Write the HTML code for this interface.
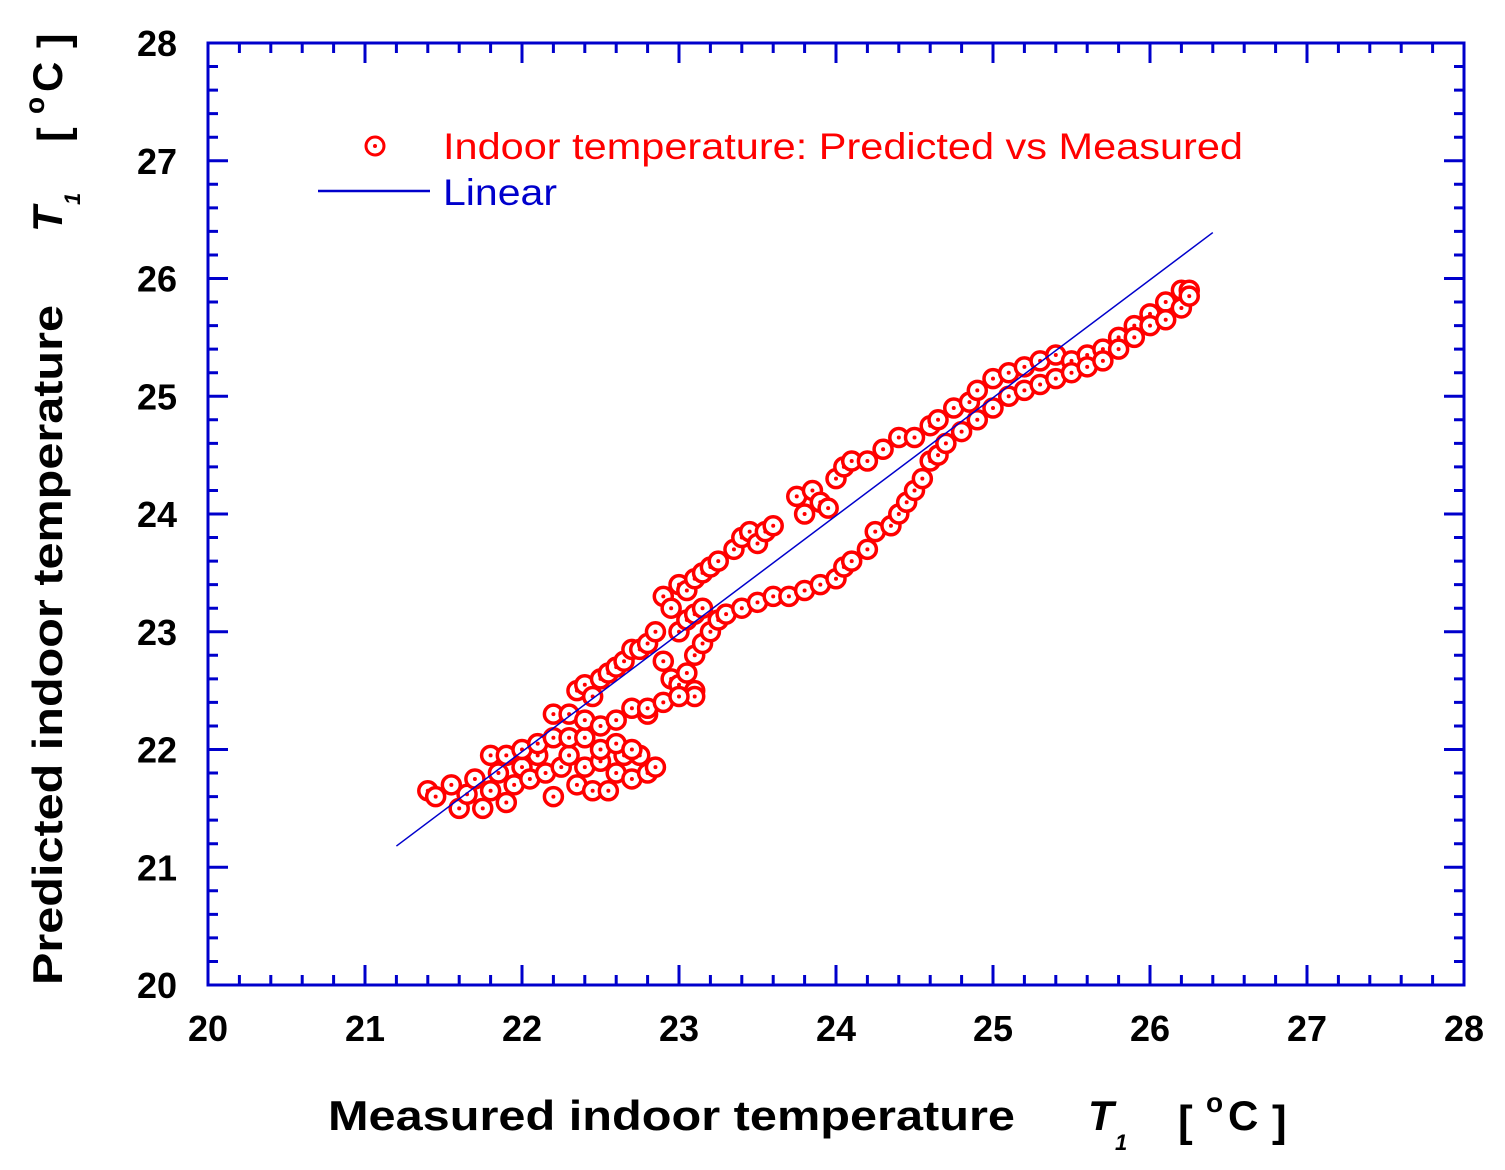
<!DOCTYPE html>
<html><head><meta charset="utf-8"><style>
html,body{margin:0;padding:0;background:#fff;}
svg{display:block;font-family:"Liberation Sans",Arial,sans-serif;}
</style></head><body>
<svg id="chart" width="1505" height="1170" viewBox="0 0 1505 1170" xmlns="http://www.w3.org/2000/svg">
<g id="ticks"></g>
<rect x="208" y="43" width="1256" height="942" fill="none" stroke="#0000cc" stroke-width="3"/>
<g id="xlabels"></g>
<g id="ylabels"></g>
<g id="points"></g>
<line id="fit" stroke="#0000cc" stroke-width="1.5"/>
<g>
  <circle cx="375" cy="146" r="9" fill="#fff" stroke="#ff0000" stroke-width="3"/>
  <circle cx="375" cy="146" r="2" fill="#ff0000"/>
  <text x="443" y="159" font-size="37" fill="#ff0000" textLength="800" lengthAdjust="spacingAndGlyphs">Indoor temperature:  Predicted  vs  Measured</text>
  <line x1="318" y1="191" x2="430" y2="191" stroke="#0000cc" stroke-width="2.5"/>
  <text x="443" y="205" font-size="37" fill="#0000cc" textLength="114" lengthAdjust="spacingAndGlyphs">Linear</text>
</g>
<g font-weight="bold" fill="#000">
  <text x="328" y="1130" font-size="42" textLength="687" lengthAdjust="spacingAndGlyphs">Measured indoor temperature</text>
  <text x="1088" y="1130" font-size="42" font-style="italic">T</text>
  <text x="1115" y="1150" font-size="22" font-style="italic">1</text>
  <text x="1178" y="1136" font-size="44">[</text>
  <text x="1206" y="1112" font-size="28">o</text>
  <text x="1228" y="1130" font-size="42">C</text>
  <text x="1272" y="1136" font-size="44">]</text>
</g>
<g transform="translate(62,985) rotate(-90)" font-weight="bold" fill="#000">
  <text x="0" y="0" font-size="42" textLength="680" lengthAdjust="spacingAndGlyphs">Predicted indoor temperature</text>
  <text x="753" y="0" font-size="42" font-style="italic">T</text>
  <text x="780" y="18" font-size="22" font-style="italic">1</text>
  <text x="843" y="6" font-size="44">[</text>
  <text x="871" y="-18" font-size="28">o</text>
  <text x="893" y="0" font-size="42">C</text>
  <text x="937" y="6" font-size="44">]</text>
</g>
</svg>
<script>
const xTickLabels = ["20","21","22","23","24","25","26","27","28"];
const yTickLabels = ["20","21","22","23","24","25","26","27","28"];
const measured = [21.4,21.45,21.55,21.6,21.65,21.7,21.75,21.8,21.85,21.9,21.95,22.0,22.05,22.1,22.15,22.2,22.25,22.3,22.35,22.4,22.45,22.5,22.55,22.6,22.65,22.7,22.75,22.8,22.85,21.8,21.9,22.0,22.1,22.2,22.3,22.4,22.5,22.6,22.7,22.2,22.3,22.4,22.5,22.6,22.7,22.8,
22.35,22.4,22.45,22.5,22.55,22.6,22.65,22.7,22.75,22.8,22.85,22.9,22.95,23.0,23.05,23.1,23.15,23.2,23.25,23.35,23.4,23.45,23.5,23.55,23.6,23.75,23.8,23.85,23.9,23.95,24.0,24.05,24.1,24.2,24.3,24.4,24.5,24.6,24.65,24.75,24.85,24.9,25.0,25.1,25.2,25.3,25.4,25.5,25.6,25.7,25.8,25.9,26.0,26.1,26.2,26.25,
22.9,22.95,23.0,23.05,23.1,23.15,23.2,23.0,23.05,23.1,23.15,23.1,23.1,
22.8,22.9,23.0,23.25,23.3,23.4,23.5,23.6,23.7,23.8,23.9,24.0,24.05,24.1,24.2,24.25,24.35,24.4,24.45,24.5,24.55,24.6,24.65,24.7,24.8,24.9,25.0,25.1,25.2,25.3,25.4,25.5,25.6,25.7,25.8,25.9,26.0,26.1,26.2,26.25];
const predicted = [21.65,21.6,21.7,21.5,21.62,21.75,21.5,21.65,21.8,21.55,21.7,21.85,21.75,21.95,21.8,21.6,21.85,21.95,21.7,21.85,21.65,21.9,21.65,21.8,21.95,21.75,21.95,21.8,21.85,21.95,21.95,22.0,22.05,22.1,22.1,22.1,22.0,22.05,22.0,22.3,22.3,22.25,22.2,22.25,22.35,22.3,
22.5,22.55,22.45,22.6,22.65,22.7,22.75,22.85,22.85,22.9,23.0,23.3,23.2,23.4,23.35,23.45,23.5,23.55,23.6,23.7,23.8,23.85,23.75,23.85,23.9,24.15,24.0,24.2,24.1,24.05,24.3,24.4,24.45,24.45,24.55,24.65,24.65,24.75,24.8,24.9,24.95,25.05,25.15,25.2,25.25,25.3,25.35,25.3,25.35,25.4,25.5,25.6,25.7,25.8,25.9,25.9,
22.75,22.6,22.55,22.65,22.8,22.9,23.0,23.0,23.1,23.15,23.2,22.5,22.45,
22.35,22.4,22.45,23.1,23.15,23.2,23.25,23.3,23.3,23.35,23.4,23.45,23.55,23.6,23.7,23.85,23.9,24.0,24.1,24.2,24.3,24.45,24.5,24.6,24.7,24.8,24.9,25.0,25.05,25.1,25.15,25.2,25.25,25.3,25.4,25.5,25.6,25.65,25.75,25.85];
const fitX = [21.2, 26.4];
const fitY = [21.18, 26.39];

const NS = "http://www.w3.org/2000/svg";
const X0=208, X1=1464, Y0=985, Y1=43;
function xs(v){return X0+(v-20)/8*(X1-X0);}
function ys(v){return Y0-(v-20)/8*(Y0-Y1);}
function mk(tag, attrs, parent){const e=document.createElementNS(NS,tag);for(const k in attrs)e.setAttribute(k,attrs[k]);parent.appendChild(e);return e;}

const ticks=document.getElementById('ticks');
for(let i=0;i<=40;i++){
  const v=20+i*0.2, major=i%5===0, L=major?20:10;
  const x=xs(v), y=ys(v);
  const d=`M${x},${Y0}v${-L}M${x},${Y1}v${L}M${X0},${y}h${L}M${X1},${y}h${-L}`;
  const p=mk('path',{d:d,stroke:'#0000cc','stroke-width':3,fill:'none'},ticks);
  
  
}
const xl=document.getElementById('xlabels');
xTickLabels.forEach(t=>{
  const e=mk('text',{x:xs(+t),y:1041,'text-anchor':'middle','font-size':36,'font-weight':'bold',fill:'#000'},xl);
  e.textContent=t;
  
  
});
const yl=document.getElementById('ylabels');
yTickLabels.forEach(t=>{
  const e=mk('text',{x:177,y:ys(+t)+13,'text-anchor':'end','font-size':36,'font-weight':'bold',fill:'#000'},yl);
  e.textContent=t;
  
  
});
const pts=document.getElementById('points');
measured.forEach((mx,i)=>{
  const g=mk('g',{},pts);
  
  
  mk('circle',{cx:xs(mx),cy:ys(predicted[i]),r:9,fill:'#fff',stroke:'#ff0000','stroke-width':3.5},g);
  mk('circle',{cx:xs(mx),cy:ys(predicted[i]),r:2,fill:'#ff0000'},g);
});
const fit=document.getElementById('fit');
fit.setAttribute('x1',xs(fitX[0]));fit.setAttribute('y1',ys(fitY[0]));
fit.setAttribute('x2',xs(fitX[1]));fit.setAttribute('y2',ys(fitY[1]));
</script>
</body></html>
